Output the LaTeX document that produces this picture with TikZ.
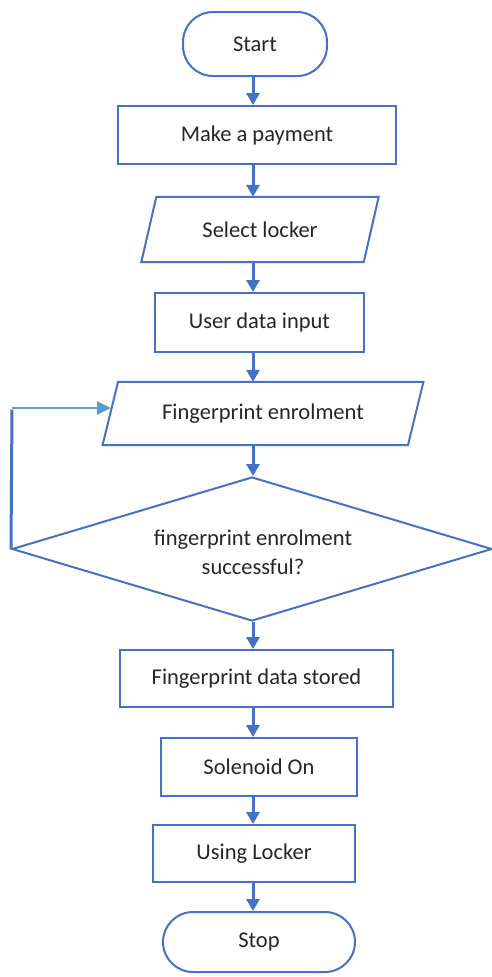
\documentclass[tikz,border=0pt]{standalone}
\usepackage{fontspec}
\setmainfont{Carlito}
\usetikzlibrary{arrows.meta,shapes.geometric}
\definecolor{mainblue}{HTML}{4472C4}
\definecolor{lightblue}{HTML}{5B9BD5}
\definecolor{txt}{HTML}{262626}
\begin{document}
\begin{tikzpicture}[x=1pt,y=-1pt,
  every node/.style={font=\fontsize{22.5}{29}\selectfont, text=txt, inner sep=0pt, align=center},
  term/.style={draw=mainblue, line width=2pt, rounded corners=30pt, fill=white},
  procbox/.style={draw=mainblue, line width=2pt, fill=white},
  iobox/.style={draw=none},
  iodraw/.style={draw=mainblue, line width=2pt},
  decbox/.style={diamond, draw=mainblue, line width=2pt, aspect=3.33},
  flow/.style={draw=mainblue, line width=3pt, -{Triangle[width=13pt,length=12pt]}},
  backflow/.style={draw=lightblue, line width=1.8pt, -{Triangle[width=13pt,length=14pt]}},
  backrise/.style={draw=mainblue, line width=3pt}]
\useasboundingbox (0,0) rectangle (492,977);
\fill[white] (0,0) rectangle (492,977);
\coordinate (sp) at (253,0);

\node[term, minimum width=144pt, minimum height=64pt] (start) at (255,44) {Start};
\node[procbox, minimum width=278pt, minimum height=58pt] (pay) at (257,135) {Make a payment};
\node[iobox, minimum width=222pt, minimum height=65pt] (sel) at (260,229.5) {Select locker};
\draw[iodraw] ([xshift=7.5pt]sel.north west) -- ([xshift=7.5pt]sel.north east)
  -- ([xshift=-7.5pt]sel.south east) -- ([xshift=-7.5pt]sel.south west) -- cycle;
\node[procbox, minimum width=209pt, minimum height=59pt] (usr) at (259.5,322.5) {User data input};
\node[iobox, minimum width=305pt, minimum height=63pt] (enr) at (263,413.5) {Fingerprint enrolment};
\draw[iodraw] ([xshift=7.75pt]enr.north west) -- ([xshift=7.75pt]enr.north east)
  -- ([xshift=-7.75pt]enr.south east) -- ([xshift=-7.75pt]enr.south west) -- cycle;
\node[decbox, minimum width=480pt, minimum height=144pt] (dec) at (252,549) {};
\node (dectext) at (253,552) {fingerprint enrolment\\successful?};
\node[procbox, minimum width=273pt, minimum height=57pt] (sto) at (256.5,678.5) {Fingerprint data stored};
\node[procbox, minimum width=196pt, minimum height=58pt] (sol) at (259,767) {Solenoid On};
\node[procbox, minimum width=202pt, minimum height=57pt] (use) at (254,853.5) {Using Locker};
\node[term, minimum width=192pt, minimum height=60pt] (stop) at (259,942) {Stop};

\draw[flow] (start.south -| sp) -- (pay.north -| sp);
\draw[flow] (pay.south -| sp) -- (sel.north -| sp);
\draw[flow] (sel.south -| sp) -- (usr.north -| sp);
\draw[flow] (usr.south -| sp) -- (enr.north -| sp);
\draw[flow] (enr.south -| sp) -- (dec.north -| sp);
\draw[flow] (dec.south -| sp) -- (sto.north -| sp);
\draw[flow] (sto.south -| sp) -- (sol.north -| sp);
\draw[flow] (sol.south -| sp) -- (use.north -| sp);
\draw[flow] (use.south -| sp) -- (stop.north -| sp);

\coordinate (lc) at (12,408);
\coordinate (enrin) at (111,408);
\draw[backrise] (dec.west) -- ([yshift=-1.5pt]lc);
\draw[backflow] (lc) -- (enrin);
\end{tikzpicture}
\end{document}
